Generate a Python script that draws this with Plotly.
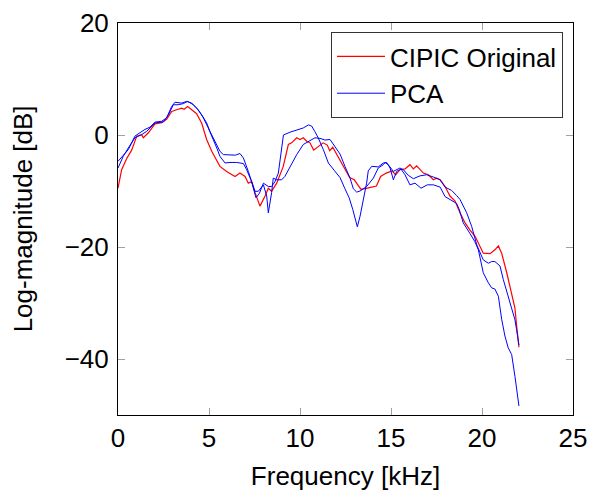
import plotly.graph_objects as go

# CIPIC Original (red)
freq_orig = [0, 0.2, 0.48, 0.75, 1.03, 1.3, 1.39, 1.67, 2.03, 2.4, 2.67, 2.95, 3.22, 3.5, 3.63, 3.83,
             4.05, 4.32, 4.6, 4.87, 5.15, 5.4, 5.6, 5.97, 6.43, 6.7, 6.98, 7.16, 7.34, 7.53, 7.8,
             8.08, 8.26, 8.44, 8.72, 9.08, 9.36, 9.54, 9.82, 10.0, 10.18, 10.37, 10.55, 10.75,
             11.0, 11.27, 11.5, 11.63, 11.8, 12.1, 12.46, 12.73, 12.98, 13.35, 13.7, 14.0, 14.2,
             14.43, 14.74, 15.05, 15.26, 15.49, 15.77, 16.04, 16.23, 16.41, 16.6, 16.78, 17.05,
             17.33, 17.5, 17.7, 17.97, 18.24, 18.52, 18.79, 19.07, 19.34, 19.62, 19.89, 20.07,
             20.44, 20.71, 20.9, 21.08, 21.36, 21.63, 21.81, 21.9, 22.03]
mag_orig = [-9.5, -6.2, -4.2, -2.7, -0.2, 0.05, -0.5, 0.4, 2.0, 2.2, 2.8, 4.2, 4.5, 4.8, 4.6, 5.1,
            4.5, 3.8, 2.1, -0.8, -2.9, -4.5, -5.6, -6.5, -7.4, -6.8, -7.4, -8.6, -8.3, -10.3, -12.7,
            -10.9, -9.5, -10.05, -8.6, -5.6, -1.7, -1.4, -0.5, -0.8, -0.5, -1.1, -1.4, -2.7,
            -2.0, -1.4, -1.8, -2.8, -2.2, -3.9, -6.0, -7.6, -8.0, -9.7, -9.5, -9.2, -9.1,
            -7.4, -6.8, -6.4, -7.1, -6.2, -6.06, -5.3, -6.06, -5.5, -6.2, -6.8, -7.1,
            -8.0, -7.7, -8.0, -9.2, -10.9, -11.8, -13.9, -15.7, -17.0, -18.1, -19.9, -21.1,
            -21.2, -20.5, -19.8, -21.1, -24.6, -28.2, -30.9, -34.0, -37.9]

# PCA reconstruction 1 (blue)
freq_pca1 = [0, 0.57, 0.93, 1.21, 1.48, 1.76, 2.03, 2.4, 2.67, 2.95, 3.13, 3.5, 3.77, 4.05, 4.32,
             4.6, 4.87, 5.05, 5.33, 5.6, 5.79, 6.15, 6.45, 6.7, 6.89, 7.16, 7.34, 7.58, 7.77, 7.99,
             8.26, 8.44, 8.63, 8.81, 9.0, 9.09, 9.45, 9.82, 10.18, 10.46, 10.64, 10.82, 11.0,
             11.28, 11.56, 11.9, 12.2, 12.47, 12.7, 12.9, 13.15, 13.3, 13.48, 13.66, 13.75,
             13.94, 14.3, 14.58, 14.76, 14.95, 15.13, 15.31, 15.55, 15.77, 16.04, 16.32, 16.65,
             17.0, 17.33, 17.7, 17.97, 18.33, 18.6, 18.75, 18.97, 19.34, 19.6, 19.8, 20.07,
             20.35, 20.53, 20.71, 20.9, 21.08, 21.26, 21.44, 21.63, 21.81, 22.03]
mag_pca1 = [-4.7, -2.6, -0.2, 0.4, 1.0, 1.4, 2.3, 2.45, 3.05, 5.1, 5.85, 5.7, 6.0, 5.7, 4.8,
            3.6, 2.15, 0.67, -1.1, -2.9, -3.5, -3.6, -3.6, -3.3, -4.1, -6.5, -8.3, -11.2, -10.4, -8.6,
            -9.2, -9.2, -8.3, -6.8, -2.6, 0.0, 0.5, 0.85, 1.26, 1.8, 1.6, 0.6, -0.5,
            -2.6, -5.0, -6.4, -7.6, -9.6, -11.2, -13.3, -16.4, -14.5, -11.5, -8.6, -6.4,
            -5.6, -5.7, -5.0, -4.9, -5.9, -8.0, -6.5, -6.1, -7.1, -8.9, -8.6, -9.5,
            -8.9, -8.9, -9.3, -11.0, -11.7, -12.2, -13.3, -15.7, -17.6, -19.0, -20.5, -24.6,
            -26.4, -27.3, -27.5, -28.8, -32.9, -35.9, -38.0, -39.2, -43.1, -48.4]

# PCA reconstruction 2 (blue)
freq_pca2 = [0, 0.29, 0.57, 0.93, 1.3, 1.58, 2.03, 2.49, 2.77, 3.04, 3.3, 3.59, 3.83, 4.14, 4.41,
             4.69, 4.96, 5.24, 5.45, 5.6, 5.88, 6.15, 6.52, 6.89, 7.07, 7.34, 7.53, 7.71, 7.99,
             8.17, 8.26, 8.44, 8.53, 8.72, 8.99, 9.17, 9.45, 9.82, 10.18, 10.55, 10.82, 11.1,
             11.37, 11.65, 11.92, 12.2, 12.47, 12.75, 12.93, 13.12, 13.3, 13.66, 14.03, 14.3,
             14.58, 14.67, 14.85, 15.13, 15.49, 15.68, 15.95, 16.23, 16.59, 16.96, 17.33, 17.7,
             17.97, 18.33, 18.6, 18.79, 19.16, 19.43, 19.71, 20.07, 20.35, 20.53, 20.71, 20.99,
             21.17, 21.44, 21.63, 21.81, 21.9, 22.03]
mag_pca2 = [-5.9, -3.8, -2.3, -0.5, 0.07, 0.67, 2.15, 2.33, 3.6, 5.4, 5.4, 5.6, 6.0, 5.4, 4.5,
            3.05, 1.26, -0.8, -2.5, -3.8, -5.0, -4.9, -4.9, -5.1, -6.2, -8.3, -10.05, -10.05, -8.9,
            -10.9, -13.9, -10.3, -7.7, -8.0, -8.0, -7.4, -5.6, -3.5, -1.7, -1.0, -0.5, -0.6,
            -0.9, -0.8, -2.0, -3.4, -5.6, -7.7, -9.6, -10.2, -10.0, -9.2, -7.7, -5.9,
            -5.3, -4.9, -5.3, -6.5, -5.9, -6.2, -7.2, -7.8, -7.3, -7.1, -7.5, -8.0,
            -9.3, -9.9, -10.8, -11.5, -13.9, -16.3, -19.6, -22.3, -22.9, -22.6, -22.6, -23.4,
            -25.8, -28.8, -31.2, -33.0, -34.75, -37.5]

x_ticks = [0, 5, 10, 15, 20, 25]
y_ticks = [-40, -20, 0, 20]

FONT = "Liberation Sans, Arial, sans-serif"
FS = 26

fig = go.Figure()
fig.add_trace(go.Scatter(x=freq_orig, y=mag_orig, mode="lines", name="CIPIC Original",
                         line=dict(color="#ff0000", width=1.2)))
fig.add_trace(go.Scatter(x=freq_pca1, y=mag_pca1, mode="lines", name="PCA",
                         line=dict(color="#0000ff", width=1), legendgroup="pca"))
fig.add_trace(go.Scatter(x=freq_pca2, y=mag_pca2, mode="lines", name="PCA", showlegend=False,
                         line=dict(color="#0000ff", width=1), legendgroup="pca"))

axis_common = dict(
    showgrid=False, zeroline=False, showline=True, linecolor="black", linewidth=1,
    mirror="allticks", ticks="inside", ticklen=7, tickwidth=1, tickcolor="#a0a0a0",
    tickfont=dict(family=FONT, size=FS, color="black"), automargin=False,
)

fig.update_layout(
    width=591, height=491,
    margin=dict(l=118, r=18, t=23, b=76),
    paper_bgcolor="white", plot_bgcolor="white",
    font=dict(family=FONT, size=FS, color="black"),
    showlegend=True,
    legend=dict(x=0.978, y=0.977, xanchor="right", yanchor="top",
                bordercolor="#333333", borderwidth=1, bgcolor="white",
                itemwidth=48,
                font=dict(family=FONT, size=FS), tracegroupgap=0),
    xaxis=dict(range=[0, 25], tickvals=x_ticks, ticklabelstandoff=0,
               title=dict(text="Frequency [kHz]", font=dict(family=FONT, size=FS), standoff=16),
               **axis_common),
    yaxis=dict(range=[-50, 20], tickvals=y_ticks, ticklabelstandoff=3,
               **axis_common),
    annotations=[dict(text="Log-magnitude [dB]", xref="paper", yref="paper",
                      x=-0.208, y=0.5, xanchor="center", yanchor="middle",
                      textangle=-90, showarrow=False,
                      font=dict(family=FONT, size=FS, color="black"))],
)

fig.write_html("out.html")
